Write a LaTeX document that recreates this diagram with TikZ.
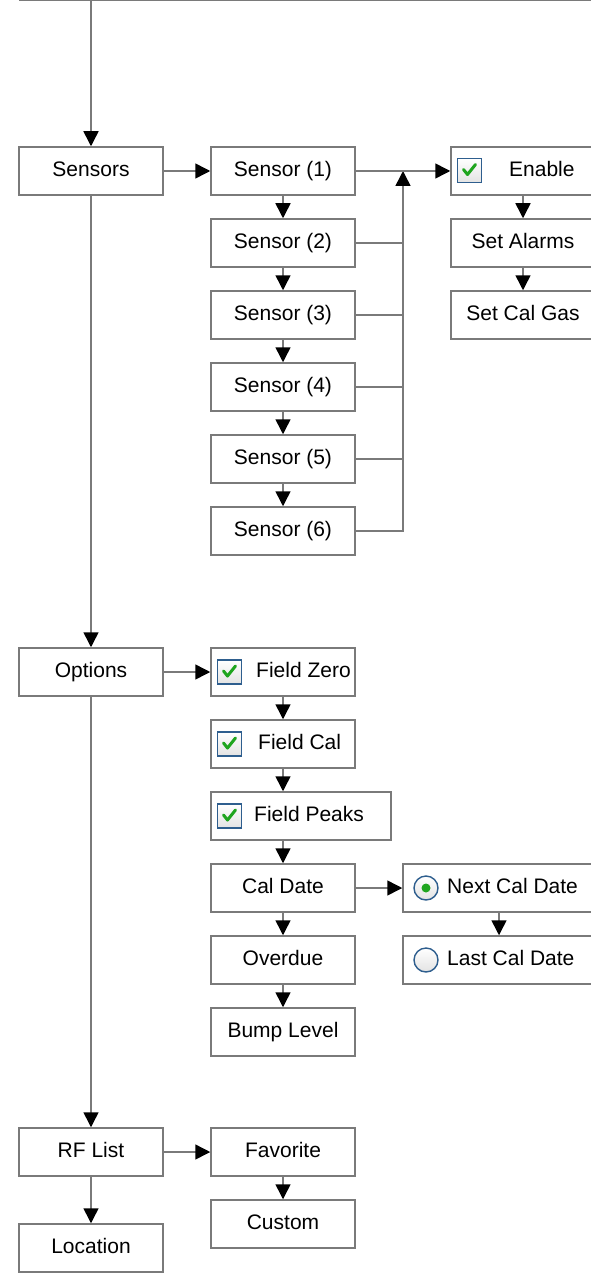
\documentclass[tikz,border=0pt]{standalone}
\usepackage{fontspec}
\setmainfont{Liberation Sans}
\usetikzlibrary{arrows.meta}
\definecolor{linegray}{HTML}{7A7A7A}
\definecolor{chkblue}{HTML}{2E5E8E}
\definecolor{chkgreen}{HTML}{1FA51F}
\tikzset{
  txt/.style={font=\fontsize{21}{25}\selectfont, text height=15.2pt, text depth=4.4pt},
  box/.style={txt, draw=linegray, line width=1.5pt, minimum width=144pt, minimum height=48pt, inner sep=0pt},
  lbl/.style={txt, anchor=west, inner sep=0pt},
  conn/.style={draw=linegray, line width=1.5pt},
  arr/.style={conn, -{Triangle[length=15pt 0 0,width=15pt 0 0,fill=black,color=black]}},
  chkbox/.style={draw=chkblue, line width=1.4pt, minimum width=24pt, minimum height=24pt, inner sep=0pt, top color=white, bottom color=gray!22},
  radiobox/.style={circle, draw=chkblue, line width=1.4pt, minimum size=24pt, inner sep=0pt, top color=white, bottom color=gray!22},
  dot/.style={circle, fill=chkgreen, minimum size=9pt, inner sep=0pt},
  tick/.style={draw=chkgreen, line width=3pt, line cap=round, line join=round}
}
\newcommand{\mycheck}[2]{%
  \node[chkbox] (#1) at (#2) {};
  \draw[tick] ([shift={(-6,-1)}]#1.center) -- ([shift={(-2,4)}]#1.center) -- ([shift={(6,-6)}]#1.center);
}
\begin{document}
\begin{tikzpicture}[x=1pt,y=-1pt]
\useasboundingbox (0,0) rectangle (591,1273);
\clip (0,0) rectangle (591,1273);
% top
\coordinate (topL) at (19,0.75);
\coordinate (topR) at (591,0.75);
\coordinate (top) at (91,0.75);
\draw[conn] (topL) -- (topR);

% main column
\node[box] (sensors) at (91,171) {Sensors};
\node[box] (options) at (91,672) {Options};
\node[box] (rflist) at (91,1152) {RF List};
\node[box] (location) at (91,1248) {Location};

% sensors column
\node[box] (s1) at (283,171) {Sensor (1)};
\node[box] (s2) at (283,243) {Sensor (2)};
\node[box] (s3) at (283,315) {Sensor (3)};
\node[box] (s4) at (283,387) {Sensor (4)};
\node[box] (s5) at (283,459) {Sensor (5)};
\node[box] (s6) at (283,531) {Sensor (6)};

% sensor settings
\node[box] (enable) at (523,171) {};
\mycheck{cbE}{469.5,170.5}
\node[lbl] (enableL) at (509,171) {Enable};
\node[box] (alarms) at (523,243) {Set Alarms};
\node[box] (calgas) at (523,315) {Set Cal Gas};

% options column
\node[box] (fzero) at (283,672) {};
\mycheck{cbFZ}{229.5,672}
\node[lbl] (fzeroL) at (256,672) {Field Zero};
\node[box] (fcal) at (283,744) {};
\mycheck{cbFC}{229.5,744}
\node[lbl] (fcalL) at (258,744) {Field Cal};
\node[box, minimum width=180pt] (fpeaks) at (301,816) {};
\mycheck{cbFP}{229.5,816}
\node[lbl] (fpeaksL) at (254,816) {Field Peaks};
\node[box] (caldate) at (283,888) {Cal Date};
\node[box] (overdue) at (283,960) {Overdue};
\node[box] (bump) at (283,1032) {Bump Level};

% cal date options
\node[box, minimum width=192pt] (nextcal) at (499,888) {};
\node[radiobox] (rbN) at (426,888) {};
\node[dot] (rbNdot) at (rbN.center) {};
\node[lbl] (nextcalL) at (447,888) {Next Cal Date};
\node[box, minimum width=192pt] (lastcal) at (499,960) {};
\node[radiobox] (rbL) at (426,960) {};
\node[lbl] (lastcalL) at (447,960) {Last Cal Date};

% RF list
\node[box] (favorite) at (283,1152) {Favorite};
\node[box] (custom) at (283,1224) {Custom};

% connectors
\draw[arr] (top) -- (sensors.north);
\draw[arr] (sensors.south) -- (options.north);
\draw[arr] (options.south) -- (rflist.north);
\draw[arr] (rflist.south) -- (location.north);

\draw[arr] (sensors.east) -- (s1.west);
\draw[arr] (s1.south) -- (s2.north);
\draw[arr] (s2.south) -- (s3.north);
\draw[arr] (s3.south) -- (s4.north);
\draw[arr] (s4.south) -- (s5.north);
\draw[arr] (s5.south) -- (s6.north);

\coordinate (busTop) at (403,171);
\coordinate (busBot) at (403,531);
\draw[conn] (s2.east) -- (s2.east -| busTop);
\draw[conn] (s3.east) -- (s3.east -| busTop);
\draw[conn] (s4.east) -- (s4.east -| busTop);
\draw[conn] (s5.east) -- (s5.east -| busTop);
\draw[arr] (s6.east) -- (busBot) -- (busTop);
\draw[arr] (s1.east) -- (enable.west);
\draw[arr] (enable.south) -- (alarms.north);
\draw[arr] (alarms.south) -- (calgas.north);

\draw[arr] (options.east) -- (fzero.west);
\draw[arr] (fzero.south) -- (fcal.north);
\draw[arr] (fcal.south) -- (fcal.south |- fpeaks.north);
\draw[arr] (caldate.north |- fpeaks.south) -- (caldate.north);
\draw[arr] (caldate.south) -- (overdue.north);
\draw[arr] (overdue.south) -- (bump.north);
\draw[arr] (caldate.east) -- (nextcal.west);
\draw[arr] (nextcal.south) -- (lastcal.north);

\draw[arr] (rflist.east) -- (favorite.west);
\draw[arr] (favorite.south) -- (custom.north);
\end{tikzpicture}
\end{document}
